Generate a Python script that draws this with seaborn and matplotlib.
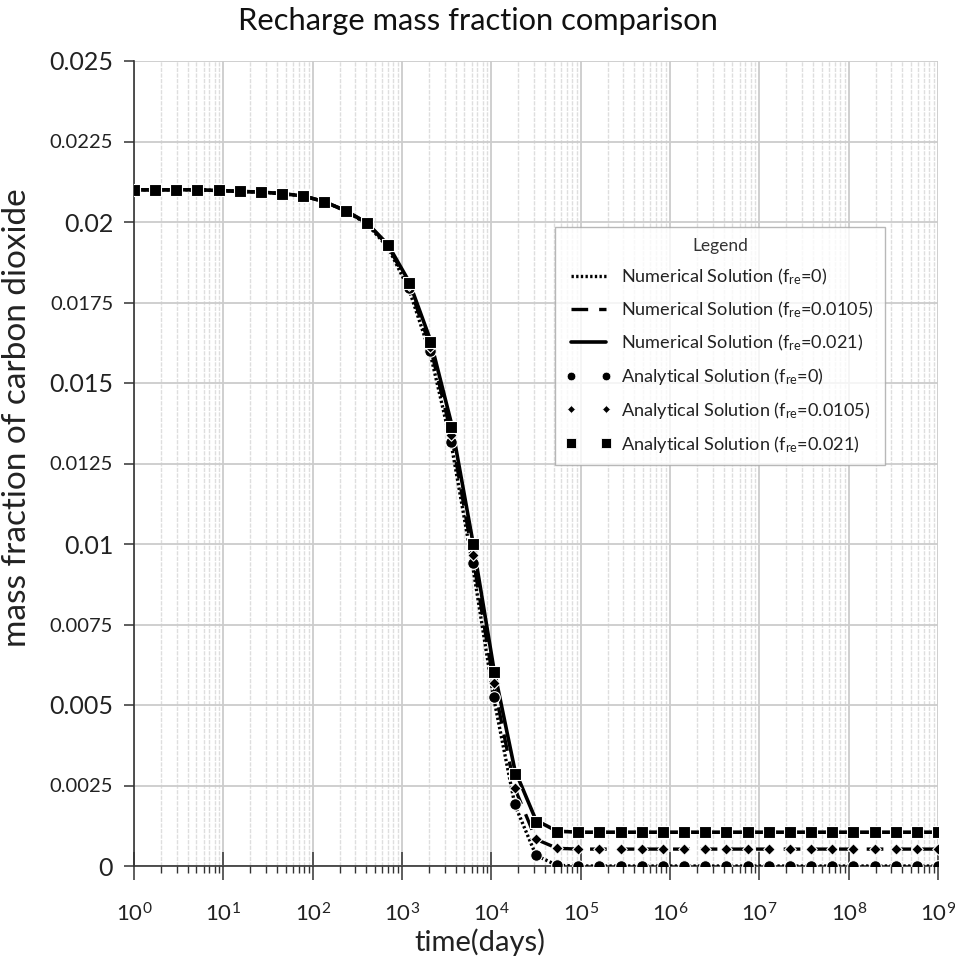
import numpy as np
import pandas as pd
import matplotlib
matplotlib.use("Agg")
import matplotlib.pyplot as plt
import matplotlib.transforms as mtransforms
import seaborn as sns
from matplotlib.lines import Line2D
from matplotlib.ticker import LogLocator, FixedLocator, NullFormatter

# ---------------- data ----------------
# time points (days), log-spaced analytical / numerical sample times
time_days = list(np.logspace(0, 9, 39))

ana_f0 = [0.0210, 0.0210, 0.0210, 0.0210, 0.02098, 0.02095, 0.02093, 0.02088,
          0.02081, 0.02063, 0.02035, 0.01995, 0.01925, 0.01795, 0.01600, 0.01318,
          0.00942, 0.00526, 0.00193, 0.00034, 0.00002, 0.0, 0.0, 0.0, 0.0, 0.0,
          0.0, 0.0, 0.0, 0.0, 0.0, 0.0, 0.0, 0.0, 0.0, 0.0, 0.0, 0.0, 0.0]
ana_f0105 = [0.0210, 0.0210, 0.0210, 0.0210, 0.02098, 0.02095, 0.02093, 0.02088,
             0.02081, 0.02063, 0.02035, 0.01997, 0.01927, 0.01803, 0.01613, 0.01340,
             0.00966, 0.00567, 0.00241, 0.00083, 0.00055, 0.000525, 0.000525, 0.000525,
             0.000525, 0.000525, 0.000525, 0.000525, 0.000525, 0.000525, 0.000525,
             0.000525, 0.000525, 0.000525, 0.000525, 0.000525, 0.000525, 0.000525, 0.000525]
ana_f021 = [0.0210, 0.0210, 0.0210, 0.0210, 0.02098, 0.02095, 0.02093, 0.02088,
            0.02081, 0.02063, 0.02035, 0.01998, 0.01929, 0.01811, 0.01627, 0.01363,
            0.01000, 0.00602, 0.00287, 0.00136, 0.00107, 0.00105, 0.00105, 0.00105,
            0.00105, 0.00105, 0.00105, 0.00105, 0.00105, 0.00105, 0.00105, 0.00105,
            0.00105, 0.00105, 0.00105, 0.00105, 0.00105, 0.00105, 0.00105]

num_f0 = [0.0210, 0.0210, 0.0210, 0.0210, 0.02098, 0.02095, 0.02093, 0.02088,
          0.02081, 0.02063, 0.02035, 0.01994, 0.01922, 0.01790, 0.01592, 0.01308,
          0.00935, 0.00522, 0.00190, 0.00033, 0.00002, 0.0, 0.0, 0.0, 0.0, 0.0,
          0.0, 0.0, 0.0, 0.0, 0.0, 0.0, 0.0, 0.0, 0.0, 0.0, 0.0, 0.0, 0.0]
num_f0105 = [0.0210, 0.0210, 0.0210, 0.0210, 0.02098, 0.02095, 0.02093, 0.02088,
             0.02081, 0.02063, 0.02035, 0.01997, 0.01927, 0.01803, 0.01613, 0.01340,
             0.00966, 0.00567, 0.00241, 0.00083, 0.00055, 0.000525, 0.000525, 0.000525,
             0.000525, 0.000525, 0.000525, 0.000525, 0.000525, 0.000525, 0.000525,
             0.000525, 0.000525, 0.000525, 0.000525, 0.000525, 0.000525, 0.000525, 0.000525]
num_f021 = [0.0210, 0.0210, 0.0210, 0.0210, 0.02098, 0.02095, 0.02093, 0.02088,
            0.02081, 0.02063, 0.02035, 0.01998, 0.01930, 0.01815, 0.01635, 0.01375,
            0.01012, 0.00615, 0.00298, 0.00142, 0.00108, 0.00105, 0.00105, 0.00105,
            0.00105, 0.00105, 0.00105, 0.00105, 0.00105, 0.00105, 0.00105, 0.00105,
            0.00105, 0.00105, 0.00105, 0.00105, 0.00105, 0.00105, 0.00105]

x_decades = list(range(0, 10))
y_ticks = [0, 0.0025, 0.005, 0.0075, 0.01, 0.0125, 0.015, 0.0175, 0.02, 0.0225, 0.025]
y_ticklabels = ["0", "0.0025", "0.005", "0.0075", "0.01", "0.0125", "0.015",
                "0.0175", "0.02", "0.0225", "0.025"]

# ---------------- style ----------------
sns.set_theme(style="white")
FONT = "Lato"
plt.rcParams["font.family"] = [FONT, "DejaVu Sans"]
plt.rcParams["mathtext.fontset"] = "custom"
plt.rcParams["mathtext.rm"] = FONT
plt.rcParams["mathtext.it"] = FONT
plt.rcParams["mathtext.bf"] = FONT
plt.rcParams["mathtext.default"] = "regular"

W, H = 955, 964
fig = plt.figure(figsize=(W / 100, H / 100), dpi=100)
ax = fig.add_axes([134 / W, 1 - 866 / H, (938 - 134) / W, (866 - 61) / H])

num_series = [
    ("Numerical Solution (f$_{re}$=0)", num_f0, (0, (0.7, 0.7)), 2.4),
    ("Numerical Solution (f$_{re}$=0.0105)", num_f0105, (0, (5, 3.3)), 2.4),
    ("Numerical Solution (f$_{re}$=0.021)", num_f021, "-", 2.6),
]
ana_series = [
    ("Analytical Solution (f$_{re}$=0)", ana_f0, "o", 70),
    ("Analytical Solution (f$_{re}$=0.0105)", ana_f0105, "D", 34),
    ("Analytical Solution (f$_{re}$=0.021)", ana_f021, "s", 80),
]

for label, vals, ls, lw in num_series:
    df = pd.DataFrame({"time": time_days, "value": vals})
    sns.lineplot(data=df, x="time", y="value", ax=ax, color="black",
                 linestyle=ls, linewidth=lw, legend=False, zorder=3)

for label, vals, mk, s in ana_series:
    df = pd.DataFrame({"time": time_days, "value": vals})
    sns.scatterplot(data=df, x="time", y="value", ax=ax, color="black",
                    marker=mk, s=s, edgecolor="white", linewidth=0.8,
                    legend=False, zorder=4)

ax.set_xscale("log")
ax.set_xlim(1, 1e9)
ax.set_ylim(0, 0.025)

# ticks & grid
ax.xaxis.set_minor_locator(LogLocator(base=10, subs=np.arange(2, 10), numticks=200))
ax.xaxis.set_minor_formatter(NullFormatter())
ax.set_xticks([10 ** i for i in x_decades])
ax.set_xticklabels([f"$10^{{{i}}}$" for i in x_decades])
ax.grid(True, which="major", axis="both", color="#cccccc", linewidth=1.3, zorder=0)
ax.grid(True, which="minor", axis="x", color="#dedede", linewidth=1.0,
        linestyle=(0, (3, 1)), zorder=0)
ax.set_axisbelow(True)

ax.yaxis.set_major_locator(FixedLocator(y_ticks))
ax.set_yticklabels(y_ticklabels)
for i, t in enumerate(ax.get_yticklabels()):
    t.set_fontsize(18 if i % 2 == 0 else 14.5)
    t.set_color("#222222")
xt = ax.get_xticklabels()
for t in xt:
    t.set_fontsize(16)
    t.set_color("#222222")
xt[-1].set_transform(xt[-1].get_transform() +
                     mtransforms.ScaledTranslation(-5 / 100, 0, fig.dpi_scale_trans))

for side in ["top", "right"]:
    ax.spines[side].set_visible(False)
for side in ["left", "bottom"]:
    ax.spines[side].set_color("#333333")
    ax.spines[side].set_linewidth(1.2)

ax.tick_params(axis="y", which="major", direction="out", length=7, width=1.1,
               color="#333333", left=True, pad=8)
ax.tick_params(axis="x", which="major", direction="inout", length=20, width=1.1,
               color="#333333", bottom=True, pad=16)
ax.tick_params(axis="x", which="minor", direction="out", length=5, width=1.0,
               color="#333333", bottom=True)

ax.set_xlabel("time(days)", fontsize=21, color="#222222", va="top")
ax.xaxis.set_label_coords((480 - 134) / 804, -(928 - 866) / 805)
ax.set_ylabel("mass fraction of carbon dioxide", fontsize=24, color="#222222")
ax.yaxis.set_label_coords((32 - 134) / 804, 0.5 - (418 - 463.5) / 805)
fig.suptitle("Recharge mass fraction comparison", fontsize=22.2, color="#111111",
             x=478 / W, y=1 - 7 / H, va="top")

# legend
handles = []
for label, vals, ls, lw in num_series:
    handles.append(Line2D([], [], color="black", linestyle=ls, linewidth=lw, label=label))
for label, vals, mk, s in ana_series:
    handles.append(Line2D([], [], color="black", linestyle="none", marker=mk,
                          markersize=np.sqrt(s) * 0.75, markeredgecolor="white",
                          markeredgewidth=0.6, label=label))
leg = ax.legend(handles=handles, title="Legend", loc="upper left",
                bbox_to_anchor=((555 - 134) / 804, (866 - 227) / 805),
                fontsize=13.1, title_fontsize=12.5, numpoints=2,
                handlelength=2.5, handletextpad=0.55, labelspacing=0.70,
                frameon=True, fancybox=False, borderpad=0.6, borderaxespad=0)
leg.get_frame().set_edgecolor("#a6a6a6")
leg.get_frame().set_linewidth(1.0)
for t in leg.get_texts():
    t.set_color("#222222")
leg.get_title().set_color("#333333")

fig.savefig("out.png", dpi=100)
